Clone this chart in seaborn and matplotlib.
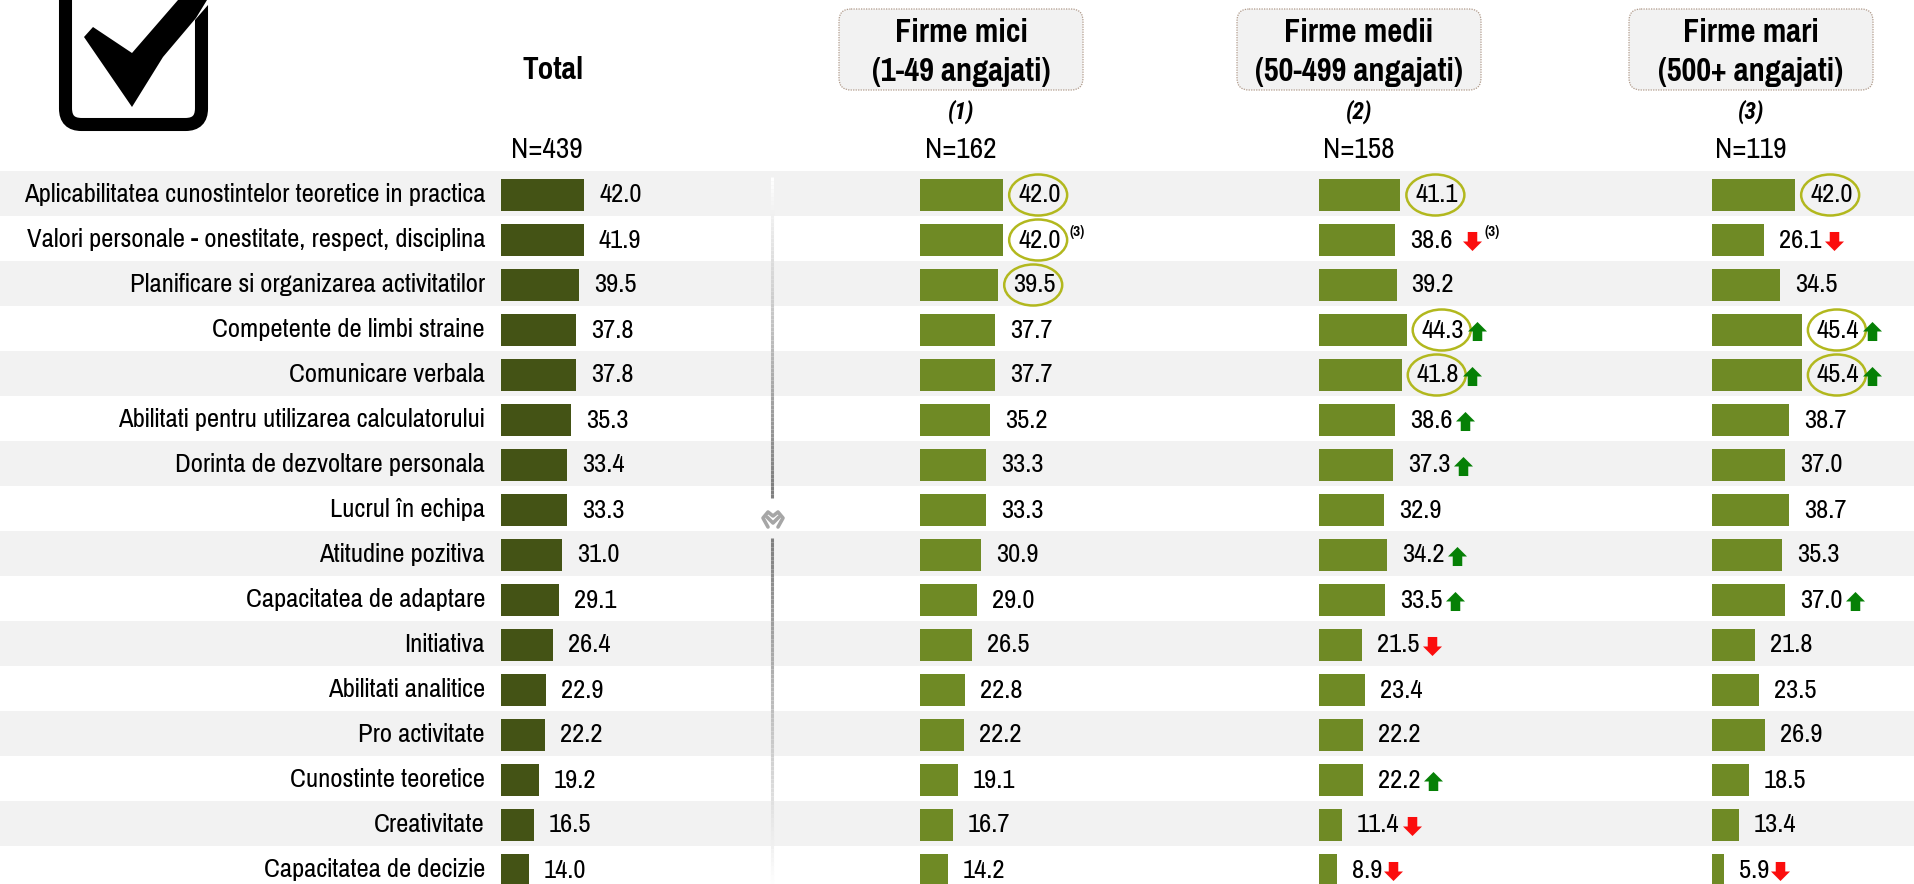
import numpy as np
import pandas as pd
import matplotlib
matplotlib.use('Agg')
import matplotlib.pyplot as plt
import seaborn as sns
from matplotlib.patches import Ellipse, FancyBboxPatch, Polygon
from matplotlib.path import Path

sns.set_theme(style='white')
plt.rcParams['font.family'] = ['Pragati Narrow', 'Liberation Sans', 'DejaVu Sans']

categories = ['Aplicabilitatea cunostintelor teoretice in practica',
              'Valori personale - onestitate, respect, disciplina',
              'Planificare si organizarea activitatilor',
              'Competente de limbi straine',
              'Comunicare verbala',
              'Abilitati pentru utilizarea calculatorului',
              'Dorinta de dezvoltare personala',
              'Lucrul în echipa',
              'Atitudine pozitiva',
              'Capacitatea de adaptare',
              'Initiativa',
              'Abilitati analitice',
              'Pro activitate',
              'Cunostinte teoretice',
              'Creativitate',
              'Capacitatea de decizie']
total = [42.0, 41.9, 39.5, 37.8, 37.8, 35.3, 33.4, 33.3, 31.0, 29.1, 26.4, 22.9, 22.2, 19.2, 16.5, 14.0]
mici = [42.0, 42.0, 39.5, 37.7, 37.7, 35.2, 33.3, 33.3, 30.9, 29.0, 26.5, 22.8, 22.2, 19.1, 16.7, 14.2]
medii = [41.1, 38.6, 39.2, 44.3, 41.8, 38.6, 37.3, 32.9, 34.2, 33.5, 21.5, 23.4, 22.2, 22.2, 11.4, 8.9]
mari = [42.0, 26.1, 34.5, 45.4, 45.4, 38.7, 37.0, 38.7, 35.3, 37.0, 21.8, 23.5, 26.9, 18.5, 13.4, 5.9]

circled = [[], [0, 1, 2], [0, 3, 4], [0, 3, 4]]
arrows_up = [[], [], [3, 4, 5, 6, 8, 9, 13], [3, 4, 9]]
arrows_down = [[], [], [1, 10, 14, 15], [1, 15]]
sup_rows = [[], [1], [1], []]

W, H = 1915, 884
ROW = 45
TOP = 171
PX_UNIT = 1.98
FS = 20.9

fig = plt.figure(figsize=(W / 100, H / 100), dpi=100, facecolor='white')

# background layer in pixel coordinates
bg = fig.add_axes([0, 0, 1, 1])
bg.set_xlim(0, W)
bg.set_ylim(H, 0)
bg.axis('off')
for i in range(0, len(categories), 2):
    bg.axhspan(TOP + i * ROW, TOP + (i + 1) * ROW, color='#f2f2f2', lw=0)

# check box icon
bg.add_patch(FancyBboxPatch((65.5, -40), 136, 164.5, boxstyle='round,pad=0,rounding_size=16', fc='white', ec='black', lw=9.4))
bg.add_patch(Polygon([(195, -5), (216, -5), (216, 3), (208, 5), (195, 20)], fc='white', ec='none', zorder=3))
bg.add_patch(Polygon([(93, 27), (84, 37), (132, 107), (163, 57), (196, 18), (207, 0), (178, 0), (132, 53)],
                     fc='black', ec='none', zorder=3))

# divider, fades out towards both ends, small grip in the middle
for y0, y1, y_full, y_fade in [(177, 498, 480, 177), (538, 884, 540, 884)]:
    ys = np.linspace(y0, y1, 80)
    for a, b in zip(ys[:-1], ys[1:]):
        t = np.clip((a - y_fade) / (y_full - y_fade), 0, 1)
        bg.plot([772.5, 772.5], [a, b], color=str(1 - 0.5 * t), lw=2.2, solid_capstyle='butt')
bg.plot([768, 763, 768, 773, 778, 783, 778], [527, 518, 512, 516, 512, 518, 527], color='#a6a6a6', lw=2.6)
bg.plot([767, 773, 779], [517, 523, 517], color='#a6a6a6', lw=2.6)

# header boxes
heads = [('Firme mici', '(1-49 angajati)', '(1)', 'N=162', 839, 961),
         ('Firme medii', '(50-499 angajati)', '(2)', 'N=158', 1237, 1359),
         ('Firme mari', '(500+ angajati)', '(3)', 'N=119', 1629, 1751)]
for line1, line2, num, n, x0, xc in heads:
    bg.add_patch(FancyBboxPatch((x0, 9), 244, 81, boxstyle='round,pad=0,rounding_size=12',
                                fc='#f2f2f2', ec='#b09a8a', lw=0.9, ls=(0, (1, 1))))
    bg.text(xc, 33, line1, ha='center', va='center', fontsize=25.4, fontweight='bold', color='black')
    bg.text(xc, 72, line2, ha='center', va='center', fontsize=25.4, fontweight='bold', color='black')
    bg.text(xc, 112, num, ha='center', va='center', fontsize=17, fontweight='bold', style='italic',
            family=['Roboto Condensed', 'Liberation Sans'], color='black')
    bg.text(xc, 150, n, ha='center', va='center', fontsize=23, color='black')
bg.text(553, 70, 'Total', ha='center', va='center', fontsize=24.5, fontweight='bold', color='black')
bg.text(547, 150, 'N=439', ha='center', va='center', fontsize=23, color='black')

for i, c in enumerate(categories):
    bg.text(485, TOP + (i + 0.5) * ROW + 1, c, ha='right', va='center', fontsize=FS, color='black')

UP = Path([(-0.5, -1), (0.5, -1), (0.5, 0), (1, 0), (0, 1), (-1, 0), (-0.5, 0), (-0.5, -1)], closed=True)
DOWN = Path([(-0.5, 1), (0.5, 1), (0.5, 0), (1, 0), (0, -1), (-1, 0), (-0.5, 0), (-0.5, 1)], closed=True)


def arrow_x(v, r, k):
    # arrow sits right after the number, narrower for one digit values
    gap = 70 if v >= 10 else 56
    if k == 2 and r == 1:
        gap = 77
    return v + gap / PX_UNIT


columns = [total, mici, medii, mari]
lefts = [501, 920, 1319, 1712]
colors = ['#445315', '#6f8a25', '#6f8a25', '#6f8a25']
sup_gap = {1: 66, 2: 89}
for k, vals in enumerate(columns):
    df = pd.DataFrame({'cat': categories, 'val': vals})
    width = 200
    # bars sit a little under the centre of the bands
    ax = fig.add_axes([lefts[k] / W, 1 - (TOP + 1.5 + ROW * len(categories)) / H, width / W, ROW * len(categories) / H])
    ax.patch.set_alpha(0)
    sns.barplot(data=df, y='cat', x='val', color=colors[k], saturation=1, width=0.73, linewidth=0, ax=ax, orient='h')
    ax.set_xlim(0, width / PX_UNIT)
    ax.set_ylim(len(categories) - 0.5, -0.5)
    ax.axis('off')
    ax.bar_label(ax.containers[0], labels=['%.1f' % v for v in vals], padding=10.8, fontsize=FS, color='black')
    for r in circled[k]:
        ax.add_patch(Ellipse((vals[r] + 35 / PX_UNIT, r), 58 / PX_UNIT, 41 / ROW, fc='none', ec='#b2b81e', lw=1.8, clip_on=False))
    for r in arrows_up[k]:
        ax.plot(arrow_x(vals[r], r, k), r + 0.03, marker=UP, ms=13.7, color='#068006', ls='none', mew=0, clip_on=False)
    for r in arrows_down[k]:
        ax.plot(arrow_x(vals[r], r, k), r + 0.03, marker=DOWN, ms=13.7, color='#fb0d0d', ls='none', mew=0, clip_on=False)
    for r in sup_rows[k]:
        ax.text(vals[r] + sup_gap[k] / PX_UNIT, r - 0.17, '(3)', fontsize=12, fontweight='bold', ha='left', va='center', color='black', clip_on=False)

fig.savefig('out.png', dpi=100)
